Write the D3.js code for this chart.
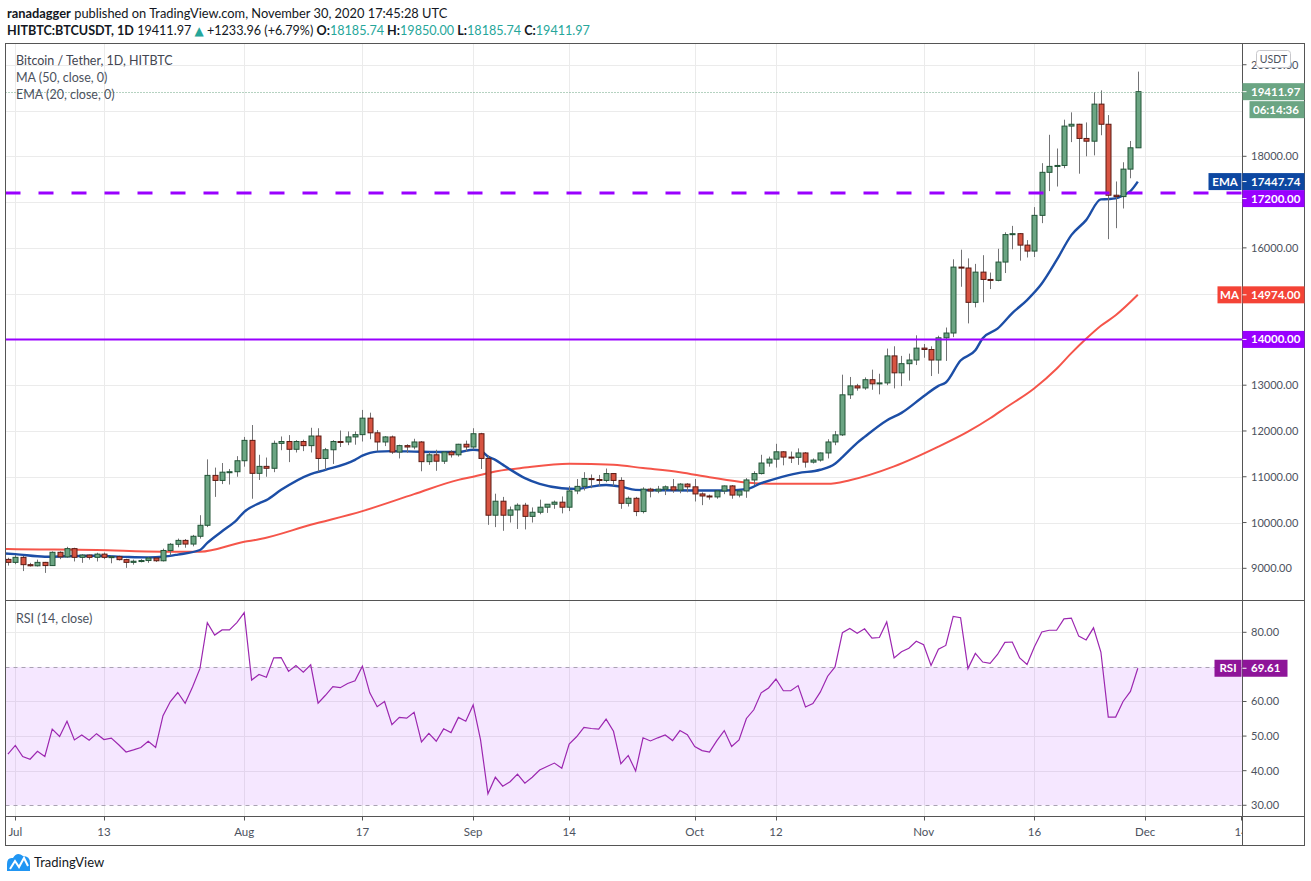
<!DOCTYPE html>
<html>
<head>
<meta charset="utf-8">
<script src="https://cdn.jsdelivr.net/npm/d3@7"></script>
<style>
  body { margin: 0; background: #fff; }
  svg { display: block; }
  text { font-family: Lato, "Open Sans", "DejaVu Sans", sans-serif; }
</style>
</head>
<body>
<svg id="chart" width="1311" height="881"></svg>
<script>
// ---- data ----
const startDate = "2020-06-30";

// daily candles, Jun 30 .. Nov 30
const opens = [
  9195,
  9130, 9240, 9080, 9055, 9130, 9060, 9350, 9250, 9430, 9240, 9290, 9240, 9310, 9240, 9255, 9190, 9130, 9155, 9170, 9225,
  9165, 9390, 9525, 9610, 9530, 9700, 9940, 11030, 10920, 11100, 11110,
  11350, 11795, 11075, 11227, 11185, 11730, 11770, 11600, 11770, 11680, 11890, 11400, 11590, 11770, 11760, 11870,
  11920, 12280, 11960, 11760, 11870, 11540, 11680, 11650, 11760, 11330, 11480, 11340, 11540, 11480, 11710,
  11650, 11940, 11400, 10160, 10466, 10160, 10276, 10378, 10135, 10225, 10335, 10400, 10445, 10335, 10690,
  10790, 10960, 10940, 10920, 11070, 10920, 10420, 10530, 10240, 10730, 10690, 10730, 10780, 10710, 10840,
  10780, 10625, 10580, 10560, 10690, 10800, 10600, 10690, 10930, 11070, 11300, 11385, 11545, 11430, 11425,
  11520, 11320, 11365, 11520, 11760, 11915, 12790, 12985, 12940, 13120, 13030, 13050, 13640, 13270, 13470, 13550,
  13810, 13780, 13550, 14035, 14140, 15580, 15560, 14810, 15470, 15310, 15290, 15690, 16290, 16310, 16060,
  15930, 16710, 17650, 17780, 17800, 18660, 18700, 18390, 18330, 19140, 18700, 17150, 17120, 17720, 18185.74
];
const highs = [
  9230,
  9290, 9270, 9120, 9190, 9140, 9370, 9370, 9470, 9450, 9310, 9300, 9340, 9345, 9280, 9275, 9210, 9190, 9200, 9250, 9230,
  9430, 9550, 9650, 9640, 9730, 10160, 11380, 11200, 11300, 11170, 11450,
  11870, 12130, 11480, 11420, 11790, 11880, 11910, 11800, 11810, 12070, 12060, 11630, 11800, 12010, 11990, 11990,
  12460, 12400, 12020, 11890, 11900, 11700, 11710, 11830, 11780, 11540, 11590, 11550, 11580, 11720, 11790,
  12060, 11960, 11470, 10630, 10560, 10350, 10420, 10430, 10330, 10500, 10400, 10480, 10570, 10800, 10950,
  11100, 11050, 11040, 11180, 11080, 10990, 10570, 10560, 10770, 10760, 10800, 10810, 10950, 10860, 10860,
  10950, 10660, 10610, 10700, 10810, 10820, 10700, 10970, 11120, 11480, 11440, 11720, 11560, 11550, 11620,
  11540, 11400, 11530, 11820, 12000, 13230, 13180, 13030, 13170, 13340, 13250, 13800, 13850, 13640, 13690, 14090,
  13900, 13850, 14080, 14260, 15750, 15960, 15770, 15650, 15840, 15460, 15980, 16340, 16480, 16320, 16170,
  16890, 17850, 18470, 18170, 18800, 18960, 18710, 18740, 19400, 19440, 18900, 17450, 17870, 18335, 19850
];
const lows = [
  9060,
  9090, 8940, 9040, 9040, 8900, 9055, 9200, 9230, 9150, 9120, 9190, 9150, 9200, 9110, 9170, 9010, 9080, 9130, 9120, 9140,
  9150, 9280, 9460, 9450, 9480, 9650, 9900, 10560, 10840, 10830, 11000,
  11220, 10520, 10930, 11000, 11100, 11580, 11320, 11530, 11560, 11530, 11110, 11150, 11280, 11650, 11690, 11700,
  11770, 11820, 11560, 11670, 11500, 11400, 11520, 11600, 11120, 11260, 11130, 11280, 11420, 11440, 11550,
  11600, 11170, 9950, 9900, 9820, 10000, 9860, 9850, 10000, 10180, 10210, 10300, 10200, 10250, 10620,
  10700, 10750, 10800, 10880, 10800, 10300, 10350, 10140, 10200, 10550, 10640, 10600, 10650, 10640, 10660,
  10460, 10380, 10500, 10520, 10620, 10520, 10550, 10540, 10820, 11050, 11220, 11200, 11250, 11300, 11260,
  11200, 11290, 11330, 11400, 11690, 11890, 12700, 12880, 12900, 12900, 12800, 13000, 12930, 12980, 13100, 13440,
  13600, 13200, 13250, 13530, 14050, 15150, 14350, 14700, 14810, 15100, 15270, 15450, 15970, 15720, 15790,
  15800, 16540, 17240, 17340, 17740, 18310, 17620, 18000, 18020, 18460, 16190, 16430, 16860, 17520, 18185.74
];
const closes = [
  9130,
  9240, 9080, 9055, 9130, 9060, 9350, 9250, 9430, 9240, 9290, 9240, 9310, 9240, 9255, 9190, 9130, 9155, 9170, 9225, 9165,
  9390, 9525, 9610, 9530, 9700, 9940, 11030, 10920, 11100, 11110, 11350,
  11795, 11075, 11227, 11185, 11730, 11770, 11600, 11770, 11680, 11890, 11400, 11590, 11770, 11760, 11870, 11920,
  12280, 11960, 11760, 11870, 11540, 11680, 11650, 11760, 11330, 11480, 11340, 11540, 11480, 11710, 11650,
  11940, 11400, 10160, 10466, 10160, 10276, 10378, 10135, 10225, 10335, 10400, 10445, 10335, 10690, 10790,
  10960, 10940, 10920, 11070, 10920, 10420, 10530, 10240, 10730, 10690, 10730, 10780, 10710, 10840, 10780,
  10625, 10580, 10560, 10690, 10800, 10600, 10690, 10930, 11070, 11300, 11385, 11545, 11430, 11425, 11520,
  11320, 11365, 11520, 11760, 11915, 12790, 12985, 12940, 13120, 13030, 13050, 13640, 13270, 13470, 13550, 13810,
  13780, 13550, 14035, 14140, 15580, 15560, 14810, 15470, 15310, 15290, 15690, 16290, 16310, 16060, 15930,
  16710, 17650, 17780, 17800, 18660, 18700, 18390, 18330, 19140, 18700, 17150, 17120, 17720, 18185.74, 19411.97
];

// EMA(20) and MA(50) read at points along the lines
const emaPoints = [
  ["2020-06-29", 9330], ["2020-07-01", 9310], ["2020-07-05", 9253], ["2020-07-08", 9265], ["2020-07-12", 9275],
  ["2020-07-16", 9250], ["2020-07-19", 9240], ["2020-07-21", 9253], ["2020-07-23", 9300], ["2020-07-26", 9400],
  ["2020-07-27", 9555], ["2020-07-29", 9810], ["2020-07-31", 10060], ["2020-08-01", 10235], ["2020-08-03", 10420],
  ["2020-08-04", 10490], ["2020-08-06", 10715], ["2020-08-10", 11060], ["2020-08-12", 11150], ["2020-08-16", 11370],
  ["2020-08-17", 11460], ["2020-08-19", 11550], ["2020-08-21", 11560], ["2020-08-24", 11550], ["2020-08-27", 11540],
  ["2020-08-30", 11540], ["2020-09-01", 11590], ["2020-09-02", 11570], ["2020-09-03", 11440], ["2020-09-04", 11370],
  ["2020-09-05", 11265], ["2020-09-06", 11160], ["2020-09-08", 10970], ["2020-09-10", 10845], ["2020-09-13", 10750],
  ["2020-09-15", 10735], ["2020-09-17", 10785], ["2020-09-19", 10820], ["2020-09-21", 10785], ["2020-09-23", 10713],
  ["2020-09-26", 10705], ["2020-10-01", 10700], ["2020-10-05", 10700], ["2020-10-08", 10730], ["2020-10-10", 10860],
  ["2020-10-12", 10960], ["2020-10-15", 11080], ["2020-10-18", 11153], ["2020-10-20", 11285], ["2020-10-21", 11430],
  ["2020-10-23", 11740], ["2020-10-24", 11870], ["2020-10-27", 12230], ["2020-10-29", 12395], ["2020-11-01", 12757],
  ["2020-11-03", 12985], ["2020-11-04", 13060], ["2020-11-06", 13540], ["2020-11-08", 13762], ["2020-11-09", 14028],
  ["2020-11-11", 14236], ["2020-11-13", 14575], ["2020-11-15", 14860], ["2020-11-17", 15221], ["2020-11-19", 15730],
  ["2020-11-21", 16278], ["2020-11-23", 16606], ["2020-11-25", 17059], ["2020-11-26", 17065], ["2020-11-27", 17081],
  ["2020-11-28", 17148], ["2020-11-29", 17240], ["2020-11-30", 17447.74]
];
const maPoints = [
  ["2020-06-29", 9425], ["2020-06-30", 9420], ["2020-07-12", 9400], ["2020-07-21", 9363], ["2020-07-26", 9363],
  ["2020-08-01", 9580], ["2020-08-03", 9633], ["2020-08-10", 9950], ["2020-08-17", 10250], ["2020-08-24", 10620],
  ["2020-08-30", 10932], ["2020-09-01", 11000], ["2020-09-04", 11114], ["2020-09-08", 11200], ["2020-09-14", 11282],
  ["2020-09-20", 11260], ["2020-09-24", 11190], ["2020-09-29", 11100], ["2020-10-03", 10990], ["2020-10-08", 10873],
  ["2020-10-12", 10845], ["2020-10-15", 10845], ["2020-10-19", 10845], ["2020-10-22", 10925], ["2020-10-28", 11226],
  ["2020-11-03", 11657], ["2020-11-07", 11985], ["2020-11-10", 12278], ["2020-11-12", 12497], ["2020-11-16", 12934],
  ["2020-11-19", 13360], ["2020-11-21", 13700], ["2020-11-23", 14013], ["2020-11-25", 14297], ["2020-11-27", 14527],
  ["2020-11-30", 14974]
];

// RSI(14), Jun 30 .. Nov 30
const rsiValues = [
  44.8,
  47.3, 44.1, 43.3, 45.6, 44.1, 52.0, 49.9, 54.3, 48.9, 50.3, 48.8, 50.7, 49.0, 49.4, 47.5, 45.4, 46.0, 46.7, 48.5, 46.7,
  55.9, 60.0, 62.6, 59.5, 64.2, 69.5, 82.8, 79.2, 80.7, 80.7, 82.8,
  85.7, 66.2, 67.8, 67.0, 72.6, 72.7, 68.7, 70.4, 68.5, 70.6, 59.5, 61.8, 64.3, 64.0, 65.2, 66.0,
  70.2, 62.5, 58.5, 60.0, 53.3, 55.4, 55.2, 56.9, 48.3, 50.8, 48.5, 52.1, 51.0, 55.4, 54.3,
  59.0, 48.9, 33.3, 38.1, 35.5, 36.8, 39.0, 36.4, 38.1, 40.2, 41.2, 42.2, 40.7, 47.7, 49.8,
  52.5, 52.2, 52.0, 54.9, 51.4, 42.0, 44.4, 39.9, 49.5, 48.6, 49.5, 50.3, 48.7, 51.6, 50.4,
  47.0, 45.8, 45.4, 48.7, 51.6, 47.0, 48.9, 55.1, 57.6, 62.5, 63.9, 66.5, 63.1, 63.1, 64.6,
  58.4, 59.4, 62.7, 67.3, 70.0, 79.9, 81.1, 79.7, 81.0, 78.3, 78.5, 83.0, 72.6, 74.4, 75.4, 77.4,
  76.4, 70.4, 75.1, 76.2, 84.6, 84.2, 69.5, 73.9, 71.4, 71.0, 73.6, 77.1, 77.2, 72.6, 70.7,
  75.8, 80.1, 80.6, 80.6, 83.9, 84.1, 78.9, 77.8, 81.3, 74.3, 55.5, 55.5, 60.0, 62.9, 69.61
];

const tickDates = ["2020-07-01", "2020-07-13", "2020-08-01", "2020-08-17", "2020-09-01", "2020-09-14",
                   "2020-10-01", "2020-10-12", "2020-11-01", "2020-11-16", "2020-12-01", "2020-12-14"];
const tickLabels = ["Jul", "13", "Aug", "17", "Sep", "14", "Oct", "12", "Nov", "16", "Dec", "14"];
const priceTicks = [9000, 10000, 11000, 12000, 13000, 14000, 15000, 16000, 17000, 18000, 19000, 20000];
const rsiTicks = [30, 40, 50, 60, 70, 80];
const levelSolid = 14000;
const levelDashed = 17200;
const lastPrice = 19411.97;
const emaLast = 17447.74;
const maLast = 14974.00;
const rsiLast = 69.61;
const countdown = "06:14:36";

// ---- layout ----
const L = 5.5, R = 1242.5, OR = 1304.5;
const TOP = 43.5, PB = 600.5, RB = 816.5, AB = 845.5;
const LABEL_X = 1251;

const C = {
  grid: "#ebebeb", frame: "#555", text: "#4c525e", dark: "#131722",
  upFill: "#6ba583", upLine: "#225437", dnFill: "#d75442", dnLine: "#5b1a13", wick: "#737375",
  ema: "#1c4ea6", emaBadge: "#0d47a1", ma: "#f44336", level: "#9900ff",
  rsi: "#9c27b0", rsiBadge: "#8e1599", rsiBand: "#9915ff", teal: "#26a69a"
};

const parseDay = d3.utcParse("%Y-%m-%d");
const firstDay = parseDay(startDate);
const bars = opens.map((o, i) => ({
  date: d3.utcDay.offset(firstDay, i), o, h: highs[i], l: lows[i], c: closes[i]
}));
const rsiData = rsiValues.map((v, i) => ({ date: d3.utcDay.offset(firstDay, i), v }));
const ema = emaPoints.map(([d, v]) => ({ date: parseDay(d), v }));
const ma = maPoints.map(([d, v]) => ({ date: parseDay(d), v }));

const x = d3.scaleUtc()
  .domain([parseDay("2020-07-01"), parseDay("2020-12-01")])
  .range([15.3, 1145.2]);
const y = d3.scaleLinear().domain([8308, 20475]).range([600, 43]);
const yR = d3.scaleLinear().domain([26.9, 89.34]).range([816, 600]);

const svg = d3.select("#chart");

// clip regions
const defs = svg.append("defs");
defs.append("clipPath").attr("id", "clipPrice")
  .append("rect").attr("x", L).attr("y", TOP).attr("width", R - L).attr("height", PB - TOP);
defs.append("clipPath").attr("id", "clipRsi")
  .append("rect").attr("x", L).attr("y", PB).attr("width", R - L).attr("height", RB - PB);
defs.append("clipPath").attr("id", "clipTime")
  .append("rect").attr("x", L).attr("y", RB).attr("width", R - L).attr("height", AB - RB);

// ---- header ----
const h1 = svg.append("text").attr("x", 7).attr("y", 18).attr("font-size", 12.85).attr("fill", C.dark);
h1.append("tspan").attr("font-weight", "bold").text("ranadagger");
h1.append("tspan").text(" published on TradingView.com, November 30, 2020 17:45:28 UTC");

const h2 = svg.append("text").attr("x", 7).attr("y", 35).attr("font-size", 12.6).attr("fill", C.dark);
h2.append("tspan").attr("font-weight", "bold").text("HITBTC:BTCUSDT, 1D");
h2.append("tspan").text(" 19411.97 ");
h2.append("tspan").attr("fill", C.teal).attr("font-size", 12).text("▲");
h2.append("tspan").text(" +1233.96 (+6.79%) ");
[["O:", "18185.74"], ["H:", "19850.00"], ["L:", "18185.74"], ["C:", "19411.97"]].forEach(([k, v], i) => {
  h2.append("tspan").attr("font-weight", "bold").text((i ? " " : "") + k);
  h2.append("tspan").attr("fill", C.teal).text(v);
});

// ---- grid ----
const grid = svg.append("g").attr("stroke", C.grid).attr("stroke-width", 1);
grid.selectAll("line.v")
  .data(tickDates.map(parseDay).filter(d => x(d) < R - 3))
  .join("line")
  .attr("x1", d => Math.round(x(d)) + 0.5).attr("x2", d => Math.round(x(d)) + 0.5)
  .attr("y1", TOP).attr("y2", RB);
grid.selectAll("line.h")
  .data(priceTicks)
  .join("line")
  .attr("x1", L).attr("x2", R)
  .attr("y1", d => Math.round(y(d)) + 0.5).attr("y2", d => Math.round(y(d)) + 0.5);

// ---- price pane ----
const price = svg.append("g").attr("clip-path", "url(#clipPrice)");

const lineGen = d3.line().x(d => x(d.date)).y(d => y(d.v)).curve(d3.curveMonotoneX);
price.append("path").datum(ma)
  .attr("fill", "none").attr("stroke", C.ma).attr("stroke-width", 2).attr("stroke-opacity", 0.9)
  .attr("d", lineGen);
price.append("path").datum(ema)
  .attr("fill", "none").attr("stroke", C.ema).attr("stroke-width", 2.4)
  .attr("d", lineGen);

const bw = 5;
const candle = price.append("g").selectAll("g").data(bars).join("g");
candle.append("line")
  .attr("x1", d => Math.round(x(d.date)) + 0.5).attr("x2", d => Math.round(x(d.date)) + 0.5)
  .attr("y1", d => y(d.h)).attr("y2", d => y(d.l))
  .attr("stroke", C.wick).attr("stroke-width", 1);
candle.append("rect")
  .attr("x", d => Math.round(x(d.date)) - bw / 2 + 0.5)
  .attr("y", d => y(Math.max(d.o, d.c)))
  .attr("width", bw)
  .attr("height", d => Math.max(1, Math.abs(y(d.o) - y(d.c))))
  .attr("fill", d => d.c >= d.o ? C.upFill : C.dnFill)
  .attr("stroke", d => d.c >= d.o ? C.upLine : C.dnLine)
  .attr("stroke-width", 1);

// last price dotted line
price.append("line")
  .attr("x1", L).attr("x2", R)
  .attr("y1", Math.round(y(lastPrice)) + 0.5).attr("y2", Math.round(y(lastPrice)) + 0.5)
  .attr("stroke", C.upFill).attr("stroke-dasharray", "1,2");

// horizontal levels
price.append("line")
  .attr("x1", L).attr("x2", R).attr("y1", y(levelDashed)).attr("y2", y(levelDashed))
  .attr("stroke", C.level).attr("stroke-width", 3).attr("stroke-dasharray", "15,18");
price.append("line")
  .attr("x1", L).attr("x2", R).attr("y1", y(levelSolid)).attr("y2", y(levelSolid))
  .attr("stroke", C.level).attr("stroke-width", 2);

// legend
const legend = svg.append("g").attr("font-size", 12.5).attr("fill", C.text);
legend.append("text").attr("x", 16).attr("y", 65).attr("fill", "#434651").text("Bitcoin / Tether, 1D, HITBTC");
legend.append("text").attr("x", 16).attr("y", 82).text("MA (50, close, 0)");
legend.append("text").attr("x", 16).attr("y", 99).text("EMA (20, close, 0)");

// ---- RSI pane ----
const rsiG = svg.append("g").attr("clip-path", "url(#clipRsi)");
rsiG.selectAll("line.g")
  .data(rsiTicks.filter(t => t !== 30 && t !== 70))
  .join("line")
  .attr("x1", L).attr("x2", R)
  .attr("y1", d => Math.round(yR(d)) + 0.5).attr("y2", d => Math.round(yR(d)) + 0.5)
  .attr("stroke", C.grid);
rsiG.append("rect")
  .attr("x", L).attr("width", R - L)
  .attr("y", yR(70)).attr("height", yR(30) - yR(70))
  .attr("fill", C.rsiBand).attr("fill-opacity", 0.1);
rsiG.selectAll("line.band")
  .data([70, 30])
  .join("line")
  .attr("x1", L).attr("x2", R)
  .attr("y1", d => Math.round(yR(d)) + 0.5).attr("y2", d => Math.round(yR(d)) + 0.5)
  .attr("stroke", "#a9a2b2").attr("stroke-dasharray", "4,4");
rsiG.append("path").datum(rsiData)
  .attr("fill", "none").attr("stroke", C.rsi).attr("stroke-width", 1.2)
  .attr("d", d3.line().x(d => x(d.date)).y(d => yR(d.v)));
svg.append("text").attr("x", 16).attr("y", 623).attr("font-size", 12.5).attr("fill", C.text)
  .text("RSI (14, close)");

// ---- frame ----
const frame = svg.append("g").attr("stroke", C.frame).attr("fill", "none").attr("stroke-width", 1);
frame.append("rect").attr("x", L).attr("y", TOP).attr("width", OR - L).attr("height", AB - TOP);
frame.append("line").attr("x1", R).attr("x2", R).attr("y1", TOP).attr("y2", AB);
frame.append("line").attr("x1", L).attr("x2", OR).attr("y1", PB).attr("y2", PB);
frame.append("line").attr("x1", L).attr("x2", OR).attr("y1", RB).attr("y2", RB);

// ---- time axis ----
const timeG = svg.append("g").attr("clip-path", "url(#clipTime)");
const ticks = tickDates.map((d, i) => ({ date: parseDay(d), label: tickLabels[i] }));
timeG.selectAll("line").data(ticks).join("line")
  .attr("x1", d => Math.round(x(d.date)) + 0.5).attr("x2", d => Math.round(x(d.date)) + 0.5)
  .attr("y1", RB).attr("y2", RB + 4).attr("stroke", C.frame);
timeG.selectAll("text").data(ticks).join("text")
  .attr("x", d => x(d.date)).attr("y", 836)
  .attr("text-anchor", "middle").attr("font-size", 11.5).attr("fill", C.text)
  .text(d => d.label);

// ---- price axis badges ----
const BH = 17;
const badges = [
  { v: lastPrice, color: C.upFill, text: lastPrice.toFixed(2) },
  { v: emaLast, color: C.emaBadge, text: emaLast.toFixed(2), tag: "EMA" },
  { v: levelDashed, color: C.level, text: levelDashed.toFixed(2) },
  { v: maLast, color: C.ma, text: maLast.toFixed(2), tag: "MA" },
  { v: levelSolid, color: C.level, text: levelSolid.toFixed(2) }
].map(b => ({ ...b, top: y(b.v) - BH / 2 }));
badges.sort((a, b) => a.top - b.top);
badges.forEach((b, i) => {
  if (i > 0) {
    const prevBottom = badges[i - 1].top + BH + (badges[i - 1].extra || 0);
    if (b.top < prevBottom) b.top = prevBottom;
  }
  if (b.v === lastPrice) b.extra = BH + 1;
});

const boxes = badges.map(b => [b.top, b.top + BH + (b.extra || 0)]);

// tick labels (hidden where a badge sits; the top one sits under the currency badge)
const axisG = svg.append("g").attr("font-size", 11).attr("fill", C.text);
priceTicks.forEach(t => {
  const ty = y(t);
  if (boxes.some(([a, b]) => ty > a - 6 && ty < b + 6)) return;
  axisG.append("line").attr("x1", R).attr("x2", R + 4).attr("y1", ty).attr("y2", ty).attr("stroke", C.frame);
  axisG.append("text").attr("x", LABEL_X).attr("y", ty + 4).text(t.toFixed(2));
});

const badgeG = svg.append("g").attr("font-size", 11.5).attr("font-weight", "bold").attr("fill", "#fff");
badges.forEach(b => {
  badgeG.append("rect").attr("x", R).attr("y", b.top).attr("width", OR - R).attr("height", BH).attr("fill", b.color);
  badgeG.append("line").attr("x1", R).attr("x2", R + 4).attr("y1", b.top + BH / 2).attr("y2", b.top + BH / 2)
    .attr("stroke", "#fff");
  badgeG.append("text").attr("x", LABEL_X).attr("y", b.top + BH / 2 + 4).text(b.text);
  if (b.tag) {
    const tw = b.tag.length * 9 + 6;
    badgeG.append("rect").attr("x", R - 1 - tw).attr("y", b.top).attr("width", tw).attr("height", BH).attr("fill", b.color);
    badgeG.append("text").attr("x", R - 1 - tw / 2).attr("y", b.top + BH / 2 + 4).attr("text-anchor", "middle").text(b.tag);
  }
  if (b.extra) {
    badgeG.append("rect").attr("x", R + 7).attr("y", b.top + BH + 1).attr("width", OR - R - 7).attr("height", BH)
      .attr("fill", b.color);
    badgeG.append("text").attr("x", LABEL_X + 2).attr("y", b.top + BH + 1 + BH / 2 + 4).text(countdown);
  }
});

// RSI axis
const rsiBadgeTop = yR(rsiLast) - BH / 2;
rsiTicks.forEach(t => {
  const ty = yR(t);
  if (ty > rsiBadgeTop - 6 && ty < rsiBadgeTop + BH + 6) return;
  axisG.append("line").attr("x1", R).attr("x2", R + 4).attr("y1", ty).attr("y2", ty).attr("stroke", C.frame);
  axisG.append("text").attr("x", LABEL_X).attr("y", ty + 4).text(t.toFixed(2));
});
badgeG.append("rect").attr("x", R).attr("y", rsiBadgeTop).attr("width", 45).attr("height", BH).attr("fill", C.rsiBadge);
badgeG.append("line").attr("x1", R).attr("x2", R + 4).attr("y1", rsiBadgeTop + BH / 2).attr("y2", rsiBadgeTop + BH / 2)
  .attr("stroke", "#fff");
badgeG.append("text").attr("x", LABEL_X).attr("y", rsiBadgeTop + BH / 2 + 4).text(rsiLast.toFixed(2));
badgeG.append("rect").attr("x", R - 28).attr("y", rsiBadgeTop).attr("width", 27).attr("height", BH).attr("fill", C.rsiBadge);
badgeG.append("text").attr("x", R - 14.5).attr("y", rsiBadgeTop + BH / 2 + 4).attr("text-anchor", "middle").text("RSI");

// currency badge
svg.append("rect").attr("x", 1256.5).attr("y", 50.5).attr("width", 34).attr("height", 17).attr("rx", 3)
  .attr("fill", "#fff").attr("stroke", "#c8c8cc");
svg.append("text").attr("x", 1273.5).attr("y", 63).attr("text-anchor", "middle")
  .attr("font-size", 10.5).attr("fill", C.text).text("USDT");

// ---- footer logo ----
const logo = svg.append("g");
logo.append("path")
  .attr("d", "M7,871 L7,864 Q7,857 13,858 Q17,851 23,856 Q30,856 30,863 L30,871 Z")
  .attr("fill", "#2196f3");
logo.append("path")
  .attr("d", "M10,869 L15,861 L19,867 L24,858 L28,866")
  .attr("fill", "none").attr("stroke", "#fff").attr("stroke-width", 2);
logo.append("text").attr("x", 34).attr("y", 867).attr("font-size", 13).attr("fill", C.dark).text("TradingView");
</script>
</body>
</html>
